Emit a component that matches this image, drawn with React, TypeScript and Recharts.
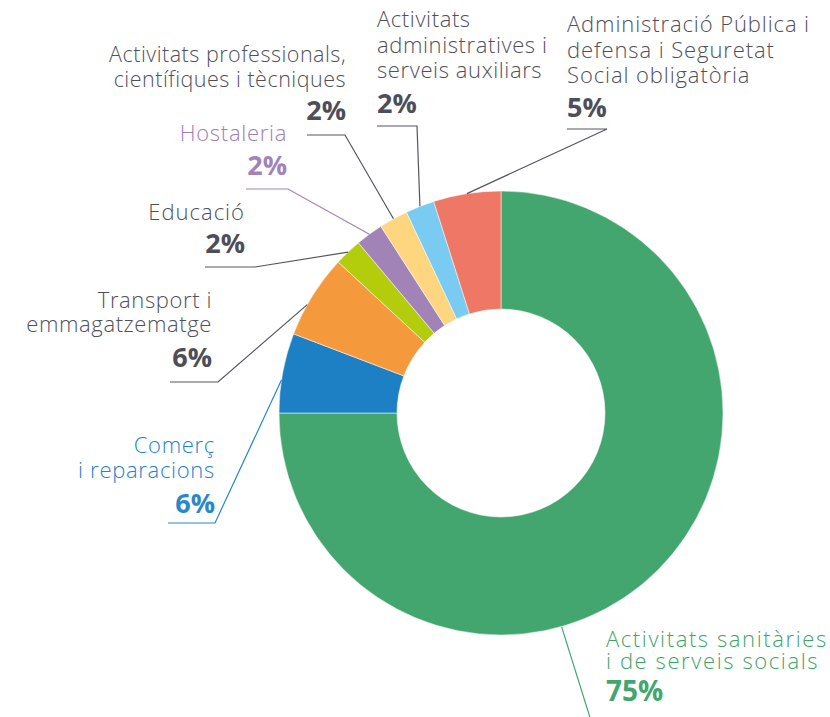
import React from 'react';
import { PieChart, Pie, Cell } from 'recharts';

const categories = [
  'Activitats sanitàries i de serveis socials',
  'Comerç i reparacions',
  'Transport i emmagatzematge',
  'Educació',
  'Hostaleria',
  'Activitats professionals, científiques i tècniques',
  'Activitats administratives i serveis auxiliars',
  'Administració Pública i defensa i Seguretat Social obligatòria',
];
const values = [75.0, 5.8, 6.1, 2.0, 2.0, 2.1, 2.1, 4.9];
const labelLines = [
  ['Activitats sanitàries', 'i de serveis socials'],
  ['Comerç', 'i reparacions'],
  ['Transport i', 'emmagatzematge'],
  ['Educació'],
  ['Hostaleria'],
  ['Activitats professionals,', 'científiques i tècniques'],
  ['Activitats', 'administratives i', 'serveis auxiliars'],
  ['Administració Pública i', 'defensa i Seguretat', 'Social obligatòria'],
];
const sliceColors = ['#43A66E', '#1E80C4', '#F59A3C', '#B3CC0B', '#A283B7', '#FDD67F', '#7ACBF2', '#EF7766'];
const GRAY = '#50505A';
const GRAY_PCT = '#4E4E59';
const textColors = ['#3FA36A', '#2583C6', GRAY, GRAY, '#9E7EB3', GRAY, GRAY, GRAY];
const pctColors = ['#43A66E', '#2A87C8', GRAY_PCT, GRAY_PCT, '#A283B7', GRAY_PCT, GRAY_PCT, GRAY_PCT];
const lineColors = ['#43A66E', '#2A87C8', '#55555F', '#55555F', '#A283B7', '#55555F', '#55555F', '#55555F'];

// label layout (text placement and leader elbows)
const layout = [
  { x: 606, anchor: 'start', ys: [647, 669], pctY: 701, elbow: [597, 740], tail: 597, frac: 0.608, fs: 22, ls: 1.6, pfs: 28 },
  { x: 215, anchor: 'end', ys: [453, 478], pctY: 513, elbow: [215, 523], tail: 168, frac: 0.41, fs: 22, ls: 0.7, pfs: 27 },
  { x: 212, anchor: 'end', ys: [308, 332], pctY: 367, elbow: [218, 382], tail: 170, frac: 0.38, fs: 22, ls: 0.6, pfs: 27 },
  { x: 245, anchor: 'end', ys: [220], pctY: 253, elbow: [255, 267], tail: 205, frac: 0.5, fs: 22, ls: 1.0, pfs: 27 },
  { x: 287, anchor: 'end', ys: [141], pctY: 175, elbow: [288, 189], tail: 246, frac: 0.5, fs: 22, ls: 0.7, pfs: 27 },
  { x: 346, anchor: 'end', ys: [62, 87], pctY: 120, elbow: [345, 135], tail: 307, frac: 0.5, fs: 21.5, ls: 0.5, pfs: 27 },
  { x: 377, anchor: 'start', ys: [27, 53, 78], pctY: 113, elbow: [417, 126], tail: 377, frac: 0.5, fs: 22, ls: 0.6, pfs: 27 },
  { x: 567, anchor: 'start', ys: [32, 58, 83], pctY: 117, elbow: [607, 129], tail: 567, frac: 0.5, fs: 22, ls: 0.9, pfs: 27 },
];

const data = categories.map((name, i) => ({ name, value: values[i] }));

const FONT = '"Open Sans", "Noto Sans", sans-serif';

function renderLabel(props: any) {
  const { cx, cy, outerRadius, startAngle, endAngle, midAngle, index, value } = props;
  const L = layout[index];
  const RAD = Math.PI / 180;
  const a =
    typeof startAngle === 'number' && typeof endAngle === 'number'
      ? startAngle + L.frac * (endAngle - startAngle)
      : midAngle;
  const px = cx + outerRadius * Math.cos(-a * RAD);
  const py = cy + outerRadius * Math.sin(-a * RAD);
  const pts = `${px},${py} ${L.elbow[0]},${L.elbow[1]} ${L.tail},${L.elbow[1]}`;
  return (
    <g key={`lbl-${index}`}>
      <polyline points={pts} fill="none" stroke={lineColors[index]} strokeWidth={1.2} />
      <text
        textAnchor={L.anchor as any}
        fill={textColors[index]}
        fontSize={L.fs}
        fontFamily={FONT}
        fontWeight={300}
        letterSpacing={L.ls}
      >
        {labelLines[index].map((t, j) => (
          <tspan key={j} x={L.x} y={L.ys[j]}>
            {t}
          </tspan>
        ))}
      </text>
      <text
        x={L.x}
        y={L.pctY}
        textAnchor={L.anchor as any}
        fill={pctColors[index]}
        fontSize={L.pfs}
        fontFamily={FONT}
        fontWeight={700}
      >
        {`${Math.round(value)}%`}
      </text>
    </g>
  );
}

export default function App() {
  return (
    <div style={{ position: 'absolute', left: 0, top: 0, width: 830, height: 717, background: '#fff' }}>
      <PieChart width={830} height={717} margin={{ top: 0, right: 0, bottom: 0, left: 0 }}>
        <Pie
          data={data}
          dataKey="value"
          nameKey="name"
          cx={501}
          cy={413}
          innerRadius={104}
          outerRadius={222}
          startAngle={90}
          endAngle={-270}
          stroke="#fff"
          strokeWidth={0.5}
          label={renderLabel}
          labelLine={false}
          isAnimationActive={false}
        >
          {data.map((d, i) => (
            <Cell key={d.name} fill={sliceColors[i]} />
          ))}
        </Pie>
      </PieChart>
    </div>
  );
}
